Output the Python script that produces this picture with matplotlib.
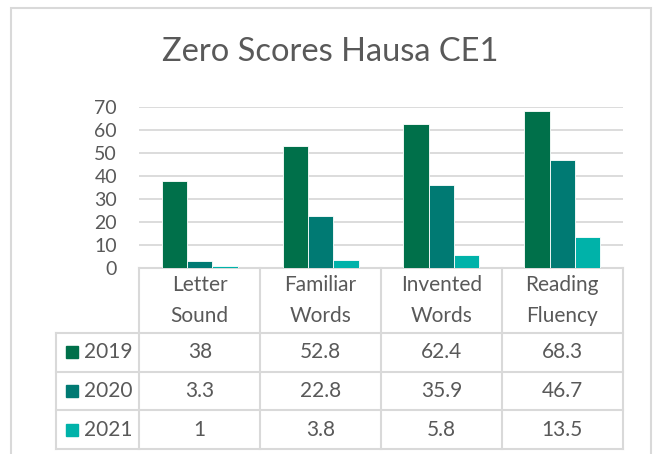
import numpy as np
import matplotlib
matplotlib.use("Agg")
import matplotlib.pyplot as plt
from matplotlib.patches import Rectangle

categories = ["Letter\nSound", "Familiar\nWords", "Invented\nWords", "Reading\nFluency"]
years = ["2019", "2020", "2021"]
v2019 = [38, 52.8, 62.4, 68.3]
v2020 = [3.3, 22.8, 35.9, 46.7]
v2021 = [1, 3.8, 5.8, 13.5]
labels2019 = ["38", "52.8", "62.4", "68.3"]
labels2020 = ["3.3", "22.8", "35.9", "46.7"]
labels2021 = ["1", "3.8", "5.8", "13.5"]
colors = ["#00704A", "#007A73", "#00B2A9"]

grey = "#D9D9D9"
txt = "#595959"
plt.rcParams['font.family'] = ['Lato', 'DejaVu Sans']

fig = plt.figure(figsize=(6.54, 4.54), dpi=100)
W, H = 654, 454

def box(x0, y0, x1, y1):
    # pixel box (top-left origin) -> figure fraction
    return [x0 / W, 1 - y1 / H, (x1 - x0) / W, (y1 - y0) / H]

# outer chart border
fig.patches.append(Rectangle((10.7 / W, -0.1), 640 / W, 1.1 - 8.3 / H,
                             transform=fig.transFigure, fill=False,
                             edgecolor=grey, linewidth=1.5))

fig.text(330 / W, 1 - 52 / H, "Zero Scores Hausa CE1", ha="center", va="center",
         fontsize=23.5, color=txt)

ax = fig.add_axes(box(139.3, 106.7, 622.7, 268.3))
x = np.arange(len(categories))
w = 0.21
series = [v2019, v2020, v2021]
for i, vals in enumerate(series):
    ax.bar(x + (i - 1) * w, vals, width=w, color=colors[i], edgecolor="white",
           linewidth=0.6, zorder=3)
ax.set_xlim(-0.5, 3.5)
ax.set_ylim(0, 70)
ax.set_yticks(range(0, 71, 10))
ax.set_xticks([])
ax.grid(axis="y", color=grey, linewidth=1.3, zorder=0)
for s in ["left", "right", "top"]:
    ax.spines[s].set_visible(False)
ax.spines["bottom"].set_color(grey)
ax.spines["bottom"].set_linewidth(1.5)
ax.tick_params(axis="y", length=0, pad=16, labelsize=14, labelcolor=txt)

# data table under the axis
tab = fig.add_axes(box(56, 268.3, 622.7, 449))
left = -0.5 - (139.3 - 56) / 120.85
hdr = 1.68
nrow = len(years)
tab.set_xlim(left, 3.5)
tab.set_ylim(hdr + nrow, 0)
tab.axis("off")
lk = dict(color=grey, linewidth=1.5, clip_on=False)
for xv in np.arange(-0.5, 3.6, 1.0):
    tab.plot([xv, xv], [0, hdr + nrow], **lk)
tab.plot([left, left], [hdr, hdr + nrow], **lk)
for r in range(nrow + 1):
    tab.plot([left, 3.5], [hdr + r, hdr + r], **lk)

for j, c in enumerate(categories):
    tab.text(j, hdr / 2, c, ha="center", va="center", fontsize=15,
             color=txt, linespacing=1.7)
row_labels = [labels2019, labels2020, labels2021]
for i, yr in enumerate(years):
    yc = hdr + i + 0.5
    tab.plot([left + 0.13], [yc], marker="s", markersize=8, color=colors[i],
             linestyle="none", clip_on=False)
    tab.text(left + 0.23, yc, yr, ha="left", va="center", fontsize=15, color=txt)
    for j, lab in enumerate(row_labels[i]):
        tab.text(j, yc, lab, ha="center", va="center", fontsize=15, color=txt)

fig.savefig("out.png", dpi=100)
